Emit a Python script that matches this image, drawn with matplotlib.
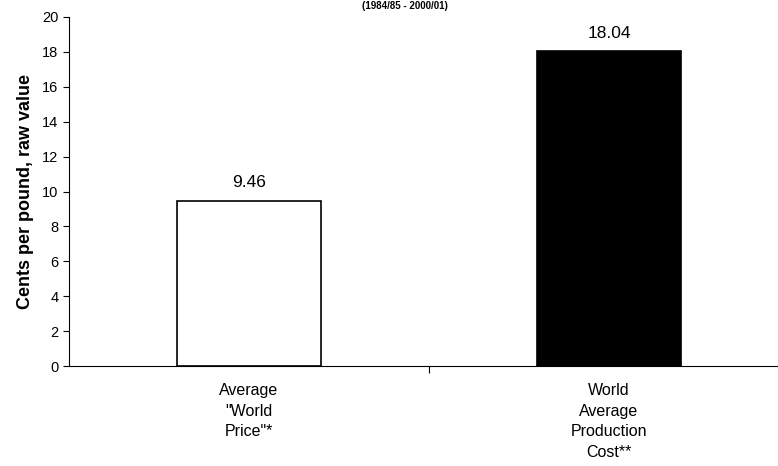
import matplotlib.pyplot as plt

plt.rcParams['font.family'] = ['Liberation Sans', 'DejaVu Sans']

categories = ['Average\n"World\nPrice"*', 'World\nAverage\nProduction\nCost**']
values = [9.46, 18.04]
labels = ['9.46', '18.04']
colors = ['white', 'black']

fig = plt.figure(figsize=(7.78, 4.66), dpi=100)
ax = fig.add_axes([69/778, 100/466, 720/778, 349/466])

x = [0, 1]
ax.bar(x, values, width=0.4, color=colors, edgecolor='black', linewidth=1.2)
for xi, v, t in zip(x, values, labels):
    ax.text(xi, v + 0.6, t, ha='center', va='bottom', fontsize=12.5)

ax.set_xlim(-0.5, 1.5)
ax.set_ylim(0, 20)
ax.set_yticks(range(0, 21, 2))
ax.set_xticks([0.5])
ax.set_xticklabels([''])
ax.tick_params(axis='x', length=5, direction='out')
ax.tick_params(axis='y', length=4, labelsize=10.5)
for i, c in enumerate(categories):
    ax.text(x[i], -1.0, c, ha='center', va='top', fontsize=11.5,
            linespacing=1.45)

ax.spines['top'].set_visible(False)
ax.spines['right'].set_visible(False)
ax.set_ylabel('Cents per pound, raw value', fontsize=13, fontweight='bold',
              labelpad=6)

# title remnant at the very top
fig.text(0.52, 1.0 - 1/466, '(1984/85 - 2000/01)', ha='center', va='top',
         fontsize=7, fontweight='bold')

fig.savefig('out.png', dpi=100)
